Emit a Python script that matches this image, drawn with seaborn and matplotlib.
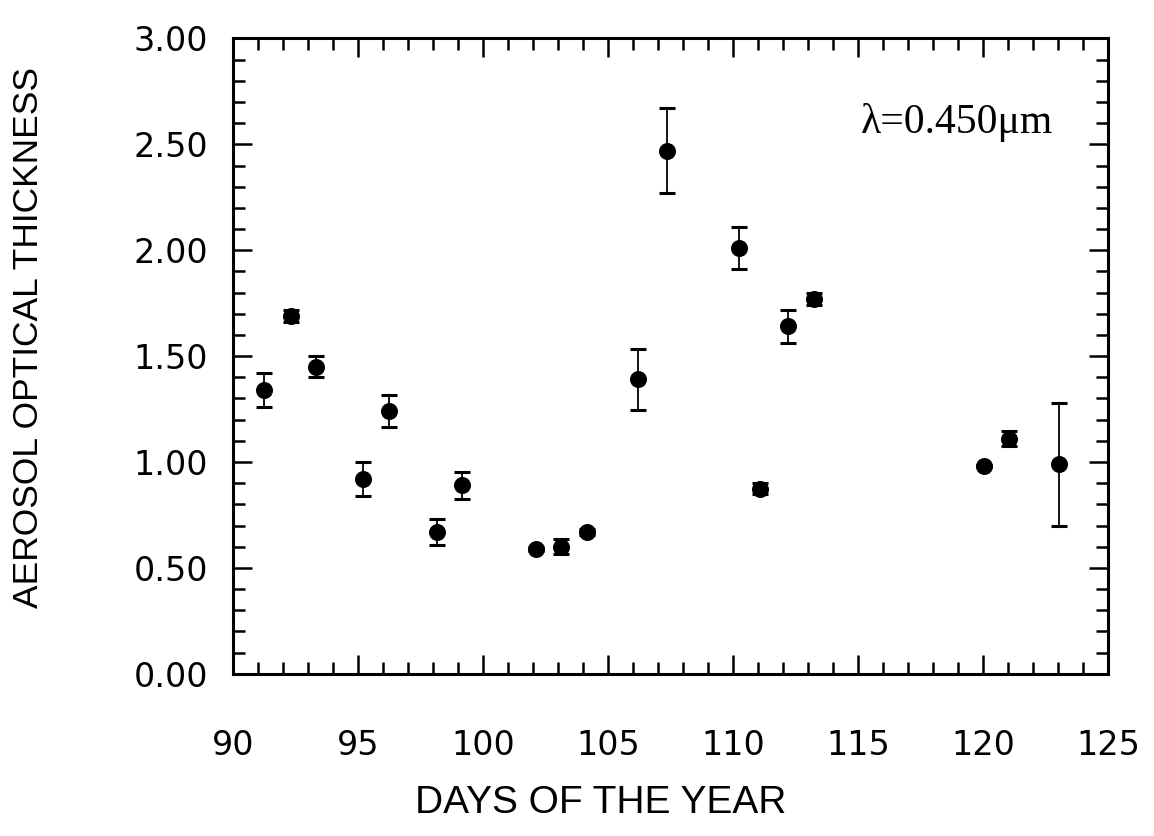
import matplotlib
matplotlib.use("Agg")
import matplotlib.pyplot as plt
import seaborn as sns
import numpy as np
import pandas as pd
from matplotlib.ticker import MultipleLocator, FormatStrFormatter

# ---- data ----
days = [91.25, 92.3, 93.3, 95.2, 96.25, 98.15, 99.15, 102.1, 103.1, 104.15,
        106.2, 107.35, 110.25, 111.1, 112.2, 113.25, 120.05, 121.05, 123.05]
aot = [1.34, 1.69, 1.45, 0.92, 1.24, 0.67, 0.89, 0.59, 0.60, 0.67,
       1.39, 2.47, 2.01, 0.875, 1.64, 1.77, 0.98, 1.11, 0.99]
err = [0.08, 0.03, 0.05, 0.08, 0.075, 0.06, 0.065, 0.01, 0.035, 0.015,
       0.145, 0.20, 0.10, 0.025, 0.08, 0.03, 0.005, 0.035, 0.29]

x_ticks = [90, 95, 100, 105, 110, 115, 120, 125]
y_ticks = [0.0, 0.5, 1.0, 1.5, 2.0, 2.5, 3.0]

df = pd.DataFrame({"day": days, "aot": aot, "err": err})

sns.set_theme(style="ticks")
plt.rcParams["font.family"] = ["DejaVu Sans"]

fig = plt.figure(figsize=(11.54, 8.36), dpi=100)
ax = fig.add_axes([0.202, 0.194, 0.758, 0.76])

ax.errorbar(df["day"], df["aot"], yerr=df["err"], fmt="none",
            ecolor="black", elinewidth=1.3, capsize=5.5, capthick=2.2, zorder=2)
sns.scatterplot(data=df, x="day", y="aot", ax=ax, color="black", s=150,
                edgecolor="black", linewidth=0, zorder=3, legend=False)

ax.set_xlim(90, 125)
ax.set_ylim(0, 3.0)
ax.set_xticks(x_ticks)
ax.set_yticks(y_ticks)
ax.xaxis.set_minor_locator(MultipleLocator(1))
ax.yaxis.set_minor_locator(MultipleLocator(0.1))
ax.yaxis.set_major_formatter(FormatStrFormatter("%.2f"))

for s in ax.spines.values():
    s.set_linewidth(2.2)
    s.set_color("black")
    s.set_visible(True)

ax.tick_params(which="both", direction="in", top=True, right=True, colors="black")
ax.tick_params(which="major", length=14, width=1.8)
ax.tick_params(which="minor", length=8.5, width=1.8)
ax.tick_params(axis="x", which="major", pad=40, labelsize=24)
ax.tick_params(axis="y", which="major", pad=18, labelsize=24)

label_font = ["Liberation Sans", "DejaVu Sans"]
ax.set_xlabel("DAYS OF THE YEAR", fontsize=28, family=label_font, color="black")
ax.set_ylabel("AEROSOL OPTICAL THICKNESS", fontsize=25.5, family=label_font, color="black")
ax.xaxis.set_label_coords(0.42, -0.175)
ax.yaxis.set_label_coords(-0.215, 0.53)

ax.text(0.827, 0.868, "λ=0.450μm", transform=ax.transAxes, ha="center", va="center",
        fontsize=30, family=["Liberation Serif", "DejaVu Serif"], color="black")

fig.savefig("out.png", dpi=100, facecolor="white")
